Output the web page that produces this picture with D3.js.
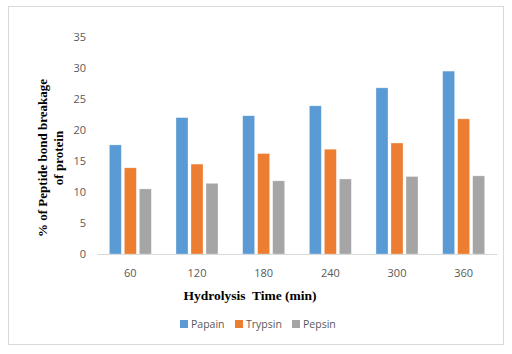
<!DOCTYPE html>
<html>
<head>
<meta charset="utf-8">
<script src="https://cdn.jsdelivr.net/npm/d3@7"></script>
<style>
  body { margin: 0; background: #fff; }
</style>
</head>
<body>
<div id="chart"></div>
<script>
const categories = ['60', '120', '180', '240', '300', '360']
const seriesNames = ['Papain', 'Trypsin', 'Pepsin']
const papain = [17.6, 22.0, 22.3, 23.9, 26.8, 29.5]
const trypsin = [13.9, 14.5, 16.2, 16.9, 17.9, 21.8]
const pepsin = [10.5, 11.4, 11.8, 12.1, 12.5, 12.6]
const yTicks = [0, 5, 10, 15, 20, 25, 30, 35]
const colors = ['#5B9BD5', '#ED7D31', '#A5A5A5']

const width = 512
const height = 354
const margin = { top: 37, right: 14, bottom: 100, left: 97 }

const series = [papain, trypsin, pepsin]
const data = categories.map((c, i) => ({
  label: c,
  values: seriesNames.map((k, j) => ({ key: k, value: series[j][i] }))
}))

const svg = d3.select('#chart').append('svg')
  .attr('width', width)
  .attr('height', height)

// outer frame
svg.append('rect')
  .attr('x', 8.5).attr('y', 6.5)
  .attr('width', 495).attr('height', 338)
  .attr('fill', '#fff')
  .attr('stroke', '#d9d9d9')

const x0 = d3.scaleBand()
  .domain(categories)
  .range([margin.left, width - margin.right - 1])
  .padding(0)

const x1 = d3.scaleBand()
  .domain(seriesNames)
  .range([0, 42])
  .paddingInner(0.2)

const y = d3.scaleLinear()
  .domain([0, 35])
  .range([height - margin.bottom, margin.top])

// bars
svg.append('g')
  .selectAll('g')
  .data(data).enter()
  .append('g')
  .attr('transform', d => `translate(${x0(d.label) + (x0.bandwidth() - 42) / 2},0)`)
  .selectAll('rect')
  .data(d => d.values)
  .enter().append('rect')
  .attr('x', d => x1(d.key))
  .attr('y', d => y(d.value))
  .attr('width', x1.bandwidth())
  .attr('height', d => y(0) - y(d.value))
  .attr('fill', (d, i) => colors[i])
  .attr('stroke', '#fff')
  .attr('stroke-opacity', 0.5)
  .attr('stroke-width', 0.6)

// y axis labels
const yAxis = svg.append('g')
  .attr('transform', `translate(${margin.left},0)`)
  .call(d3.axisLeft(y).tickValues(yTicks).tickSize(0).tickPadding(11))
yAxis.select('.domain').remove()
yAxis.selectAll('text')
  .attr('font-family', 'Open Sans, sans-serif')
  .attr('font-size', 11)
  .attr('fill', '#595959')

// x axis
const xAxis = svg.append('g')
  .attr('transform', `translate(0,${y(0)})`)
  .call(d3.axisBottom(x0).tickSize(0).tickPadding(15))
xAxis.select('.domain').attr('stroke', '#d9d9d9')
xAxis.selectAll('text')
  .attr('font-family', 'Open Sans, sans-serif')
  .attr('font-size', 11)
  .attr('fill', '#595959')

// axis titles
svg.append('text')
  .attr('x', 250).attr('y', 300)
  .attr('text-anchor', 'middle')
  .attr('font-family', 'Liberation Serif, serif')
  .attr('font-weight', 'bold')
  .attr('font-size', 13.5)
  .attr('fill', '#000')
  .attr('xml:space', 'preserve')
  .text('Hydrolysis  Time (min)')

const yTitle = svg.append('text')
  .attr('transform', 'translate(47,158) rotate(-90)')
  .attr('text-anchor', 'middle')
  .attr('font-family', 'Liberation Serif, serif')
  .attr('font-weight', 'bold')
  .attr('font-size', 13)
  .attr('fill', '#000')
yTitle.append('tspan').attr('x', 0).attr('dy', 0).text('% of Peptide bond breakage')
yTitle.append('tspan').attr('x', 0).attr('dy', 15.5).text('of protein')

// legend
const legendX = [180, 235, 292]
const legend = svg.append('g')
  .selectAll('g')
  .data(seriesNames).enter()
  .append('g')
  .attr('transform', (d, i) => `translate(${legendX[i]},320)`)
legend.append('rect')
  .attr('width', 8).attr('height', 8)
  .attr('fill', (d, i) => colors[i])
legend.append('text')
  .attr('x', 11).attr('y', 8)
  .attr('font-family', 'Open Sans, sans-serif')
  .attr('font-size', 10.5)
  .attr('fill', '#595959')
  .text(d => d)
</script>
</body>
</html>
